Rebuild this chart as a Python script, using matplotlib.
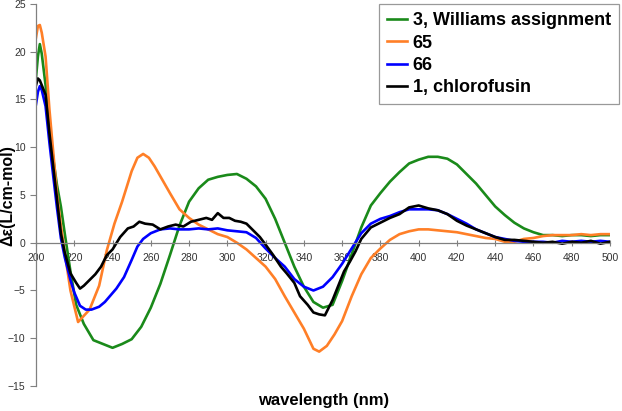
import matplotlib
matplotlib.use("Agg")
import matplotlib.pyplot as plt

# CD spectra (wavelength in nm, delta-epsilon)
green_nm = [200, 201, 202, 203, 205, 207, 209, 211, 213, 215, 218, 221, 225, 230, 235, 240, 245, 250, 255, 260,
            265, 270, 275, 280, 285, 290, 295, 300, 305, 310, 315, 320, 325, 330, 335, 340, 345, 350, 355, 360,
            365, 370, 375, 380, 385, 390, 395, 400, 405, 410, 415, 420, 425, 430, 435, 440, 445, 450, 455, 460,
            465, 470, 475, 480, 485, 490, 495, 500]
green_de = [17.3, 19.5, 20.8, 19.8, 16.5, 12.5, 8.8, 6.0, 3.8, 1.0, -3.0, -6.5, -8.5, -10.2, -10.6, -11.0, -10.6, -10.1, -8.8, -6.8,
            -4.3, -1.3, 1.8, 4.3, 5.7, 6.6, 6.9, 7.1, 7.2, 6.7, 5.9, 4.6, 2.5, 0.0, -2.5, -4.6, -6.2, -6.8, -6.5, -4.0,
            -1.2, 1.6, 3.9, 5.2, 6.4, 7.4, 8.3, 8.7, 9.0, 9.0, 8.8, 8.2, 7.2, 6.2, 5.0, 3.8, 2.9, 2.1, 1.5, 1.1,
            0.8, 0.8, 0.7, 0.8, 0.8, 0.7, 0.8, 0.8]

orange_nm = [200, 201, 202, 203, 205, 207, 209, 211, 213, 215, 218, 222, 228, 233, 237, 241, 245, 250, 253, 256,
             259, 262, 266, 270, 275, 280, 285, 290, 295, 300, 305, 310, 315, 320, 325, 330, 335, 340, 345, 348,
             352, 356, 360, 365, 370, 375, 380, 385, 390, 395, 400, 405, 410, 415, 420, 425, 430, 435, 440, 445,
             450, 455, 460, 465, 470, 475, 480, 485, 490, 495, 500]
orange_de = [21.5, 22.7, 22.8, 22.0, 19.5, 14.0, 9.5, 5.0, 1.8, -1.0, -5.0, -8.3, -7.0, -4.5, -0.8, 2.0, 4.3, 7.5, 8.9, 9.3,
             8.9, 8.0, 6.6, 5.2, 3.5, 2.6, 1.9, 1.4, 0.9, 0.6, 0.0, -0.7, -1.6, -2.5, -3.8, -5.6, -7.3, -9.0, -11.1, -11.4,
             -10.8, -9.6, -8.2, -5.6, -3.3, -1.6, -0.6, 0.3, 0.9, 1.2, 1.4, 1.4, 1.3, 1.2, 1.1, 0.9, 0.7, 0.5, 0.4, 0.1,
             0.1, 0.4, 0.5, 0.7, 0.8, 0.8, 0.8, 0.9, 0.8, 0.9, 0.9]

blue_nm = [200, 201, 202, 203, 205, 207, 209, 211, 213, 215, 218, 220, 223, 226, 229, 233, 236, 239, 242, 246,
           250, 253, 256, 260, 265, 270, 275, 280, 285, 290, 295, 300, 305, 310, 315, 320, 325, 330, 335, 340,
           345, 350, 355, 360, 365, 370, 375, 380, 385, 390, 395, 400, 405, 410, 415, 420, 425, 430, 435, 440,
           445, 450, 455, 460, 465, 470, 475, 480, 485, 490, 495, 500]
blue_de = [14.5, 15.8, 16.4, 16.0, 14.3, 10.5, 7.0, 3.6, 0.5, -1.5, -3.9, -5.2, -6.6, -7.0, -7.0, -6.7, -6.2, -5.5, -4.8, -3.6,
           -1.8, -0.4, 0.4, 1.0, 1.4, 1.5, 1.4, 1.4, 1.5, 1.4, 1.5, 1.3, 1.2, 1.1, 0.5, -0.6, -1.6, -2.5, -3.8, -4.6,
           -5.0, -4.6, -3.6, -2.2, -0.6, 1.0, 2.0, 2.5, 2.8, 3.2, 3.5, 3.5, 3.5, 3.4, 3.0, 2.5, 2.0, 1.4, 1.0, 0.6,
           0.4, 0.2, 0.1, 0.1, 0.1, 0.0, 0.2, 0.1, 0.2, 0.1, 0.2, 0.1]

black_nm = [200, 201, 202, 203, 205, 207, 209, 211, 213, 215, 218, 221, 223, 225, 228, 231, 234, 237, 240, 244,
            248, 251, 254, 257, 261, 265, 269, 273, 277, 281, 285, 289, 292, 295, 298, 301, 304, 307, 310, 313,
            317, 320, 324, 328, 331, 335, 338, 342, 345, 348, 351, 355, 358, 361, 364, 367, 370, 375, 380, 385,
            390, 395, 400, 405, 410, 415, 420, 425, 430, 435, 440, 445, 450, 455, 460, 465, 470, 475, 480, 485,
            490, 495, 500]
black_de = [16.5, 17.2, 17.0, 16.5, 15.5, 11.5, 8.0, 4.5, 1.0, -1.0, -3.2, -4.2, -4.8, -4.5, -3.9, -3.3, -2.5, -1.3, -0.7, 0.6,
            1.5, 1.7, 2.2, 2.0, 1.9, 1.4, 1.7, 1.9, 1.7, 2.2, 2.4, 2.6, 2.4, 3.1, 2.6, 2.6, 2.3, 2.2, 2.0, 1.4,
            0.6, -0.2, -1.3, -2.5, -3.2, -4.2, -5.6, -6.5, -7.3, -7.5, -7.6, -6.0, -4.5, -3.0, -2.0, -0.9, 0.4, 1.6, 2.1, 2.6,
            3.0, 3.7, 3.9, 3.6, 3.4, 3.0, 2.3, 1.8, 1.4, 1.0, 0.6, 0.3, 0.3, 0.2, 0.1, 0.0, 0.1, -0.1, 0.1, 0.0,
            0.2, -0.1, 0.1]

labels = ["3, Williams assignment", "65", "66", "1, chlorofusin"]
colors = ["#1a8a1a", "#ff7f27", "#0000ff", "#000000"]
x_ticks = list(range(200, 501, 20))
y_ticks = list(range(-15, 26, 5))

plt.rcParams["font.family"] = ["Liberation Sans", "DejaVu Sans"]

fig = plt.figure(figsize=(6.22, 4.11), dpi=100)
ax = fig.add_axes([36 / 622, 1 - 386 / 411, 574 / 622, 382 / 411])

series = [(green_nm, green_de), (orange_nm, orange_de), (blue_nm, blue_de), (black_nm, black_de)]
for (x, y), lab, c in zip(series, labels, colors):
    ax.plot(x, y, color=c, lw=1.9, label=lab)

ax.set_xlim(200, 500)
ax.set_ylim(-15, 25)
ax.set_xticks(x_ticks)
ax.set_yticks(y_ticks)

for side in ["top", "right"]:
    ax.spines[side].set_visible(False)
ax.spines["bottom"].set_position(("data", 0))
for side in ["left", "bottom"]:
    ax.spines[side].set_color("#808080")
    ax.spines[side].set_linewidth(0.9)

ax.tick_params(axis="x", direction="inout", length=5, color="#808080", labelsize=7.5,
               labelcolor="#333333", pad=5)
ax.tick_params(axis="y", direction="out", length=4, color="#808080", labelsize=7.5,
               labelcolor="#333333")

fig.text(8 / 622, 1 - 196 / 411, "Δε(L/cm-mol)", fontsize=11.5, fontweight="bold",
         rotation=90, ha="center", va="center")
fig.text(324 / 622, 1 - 400 / 411, "wavelength (nm)", fontsize=12, fontweight="bold",
         ha="center", va="center")

leg = ax.legend(loc="upper right", bbox_to_anchor=(619 / 622, 1 - 4 / 411), bbox_transform=fig.transFigure,
                prop={"weight": "bold", "size": 13}, frameon=True, fancybox=False,
                edgecolor="#808080", borderpad=0.45, labelspacing=0.3, handlelength=1.1,
                handletextpad=0.3, borderaxespad=0)
leg.get_frame().set_linewidth(0.9)

fig.savefig("out.png", dpi=100)
